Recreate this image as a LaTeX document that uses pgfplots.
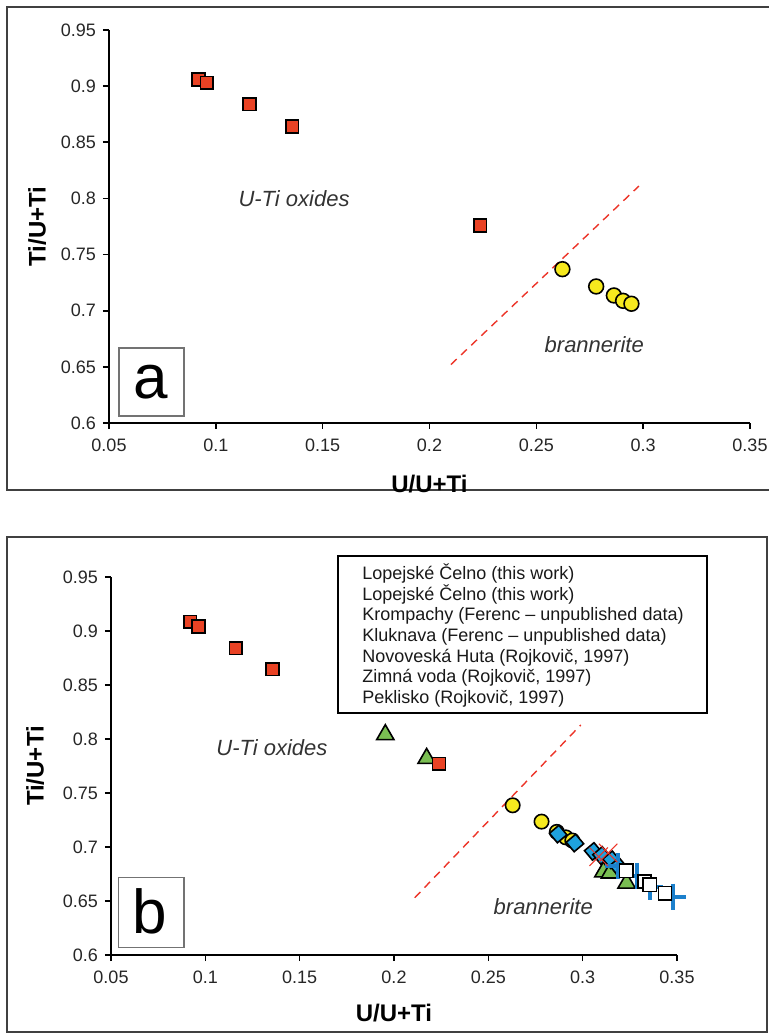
\documentclass[border=0pt]{standalone}
\usepackage{pgfplots}
\pgfplotsset{compat=1.18}
\usepackage{fontspec}
\setmainfont{Liberation Sans}
\definecolor{redsq}{RGB}{233,66,36}
\definecolor{yel}{RGB}{246,233,30}
\definecolor{grn}{RGB}{122,190,82}
\definecolor{cyn}{RGB}{30,162,222}
\definecolor{crossb}{RGB}{28,128,204}
\definecolor{dashr}{RGB}{236,52,40}
\pgfplotsset{
  mystyle/.style={
    scale only axis,
    axis x line=bottom, axis y line=left,
    axis line style={-, line width=0.9pt},
    xmin=0.05, xmax=0.35, ymin=0.6, ymax=0.95,
    xtick={0.05,0.1,0.15,0.2,0.25,0.3,0.35},
    ytick={0.6,0.65,0.7,0.75,0.8,0.85,0.9,0.95},
    tick align=outside, major tick length=3pt,
    tick style={black, line width=0.8pt},
    ticklabel style={font=\fontsize{9}{10}\selectfont, text=black!85},
    xticklabel style={yshift=-1.5pt},
    /pgf/number format/fixed,
    /pgf/number format/precision=2,
    /pgf/number format/assume math mode=true,
    clip=false,
    xlabel={U/U+Ti}, ylabel={Ti/U+Ti},
    label style={font=\bfseries\fontsize{12}{14}\selectfont},
  }
}
\begin{document}
\begin{tikzpicture}
\useasboundingbox (0pt,0pt) rectangle (384.5pt,517pt);
% panel frames
\draw[line width=0.75pt, black!75] (392pt,513.5pt) -- (3.5pt,513.5pt) -- (3.5pt,272pt) -- (392pt,272pt);
\draw[line width=0.75pt, black!75] (3.5pt,248.5pt) rectangle (383.5pt,1pt);

% ---------- panel a ----------
\begin{scope}[shift={(54.5pt,305.5pt)}]
\begin{axis}[mystyle, at={(0pt,0pt)}, anchor=south west,
  width=320.5pt, height=196.5pt,
  xlabel style={at={(axis description cs:0.5,-0.155)}, anchor=center},
  ylabel style={at={(axis description cs:-0.112,0.5)}, anchor=center},
]
\addplot[dashr, line width=0.7pt, dash pattern=on 4pt off 3pt] coordinates {(0.21,0.652) (0.298,0.811)};
\addplot[only marks, mark=square*, mark size=3.2pt, mark options={fill=redsq, draw=black, line width=0.8pt}]
  coordinates {(0.0919,0.906) (0.0958,0.903) (0.1158,0.884) (0.1357,0.864) (0.2237,0.776)};
\addplot[only marks, mark=*, mark size=3.7pt, mark options={fill=yel, draw=black, line width=0.8pt}]
  coordinates {(0.2622,0.737) (0.278,0.7216) (0.2863,0.7136) (0.2906,0.7088) (0.2945,0.7062)};
\node[font=\itshape\fontsize{11}{13}\selectfont, text=black!80] at (axis cs:0.1366,0.8) {U-Ti oxides};
\node[font=\itshape\fontsize{11}{13}\selectfont, text=black!80] at (axis cs:0.2771,0.6697) {brannerite};
\end{axis}
\end{scope}
\draw[black!55, line width=0.6pt] (59.5pt,309pt) rectangle (92pt,343pt);
\node[inner sep=0] at (75.2pt,326pt) {\fontsize{31}{31}\selectfont a};

% ---------- panel b ----------
\begin{scope}[shift={(55.5pt,39.5pt)}]
\begin{axis}[mystyle, at={(0pt,0pt)}, anchor=south west,
  width=283pt, height=189pt,
  xlabel style={at={(axis description cs:0.5,-0.153)}, anchor=center},
  ylabel style={at={(axis description cs:-0.134,0.5)}, anchor=center},
]
\addplot[dashr, line width=0.7pt, dash pattern=on 4pt off 3pt] coordinates {(0.211,0.653) (0.299,0.813)};
% Lopejske Celno: U-Ti oxides
\addplot[only marks, mark=square*, mark size=3.2pt, mark options={fill=redsq, draw=black, line width=0.8pt}]
  coordinates {(0.0920,0.9086) (0.0963,0.904) (0.1162,0.884) (0.1355,0.8647)};
% Krompachy
\addplot[only marks, mark=triangle*, mark size=5pt, mark options={fill=grn, draw=black, line width=0.8pt}]
  coordinates {(0.1954,0.804) (0.2173,0.782) (0.3110,0.677) (0.3145,0.6759) (0.3233,0.6666)};
\addplot[only marks, mark=square*, mark size=3.2pt, mark options={fill=redsq, draw=black, line width=0.8pt}]
  coordinates {(0.2238,0.777)};
% Lopejske Celno: brannerite
\addplot[only marks, mark=*, mark size=3.6pt, mark options={fill=yel, draw=black, line width=0.8pt}]
  coordinates {(0.2629,0.7386) (0.2782,0.7235) (0.2863,0.714) (0.2911,0.7089) (0.2945,0.706)};
% Kluknava
\addplot[only marks, mark=square*, mark size=3.1pt, mark options={fill=cyn, draw=black, line width=0.8pt, rotate=40}]
  coordinates {(0.287,0.712) (0.2959,0.7037) (0.3056,0.6959) (0.3100,0.6922) (0.3153,0.6882) (0.3189,0.682)};
% Zimna voda
\addplot[only marks, mark=+, mark size=6.5pt, mark options={draw=crossb, line width=2pt}]
  coordinates {(0.3189,0.682) (0.3286,0.6727) (0.3356,0.6634) (0.348,0.6541)};
% Novoveska Huta
\addplot[only marks, mark=square*, mark size=3.3pt, mark options={fill=white, draw=black, line width=0.8pt}]
  coordinates {(0.3231,0.678) (0.3327,0.668) (0.3356,0.665) (0.3436,0.6573)};
% Peklisko
\addplot[only marks, mark=x, mark size=6.5pt, mark options={draw=dashr, line width=0.5pt, double=cyn, double distance=0.8pt}]
  coordinates {(0.3085,0.691) (0.3135,0.6945)};
\node[font=\itshape\fontsize{11}{13}\selectfont, text=black!80] at (axis cs:0.1353,0.792) {U-Ti oxides};
\node[font=\itshape\fontsize{11}{13}\selectfont, text=black!80] at (axis cs:0.2791,0.6449) {brannerite};
\end{axis}
\end{scope}
\draw[black!55, line width=0.6pt] (59.15pt,43.35pt) rectangle (92pt,78.2pt);
\node[inner sep=0] at (75pt,61.15pt) {\fontsize{31}{31}\selectfont b};

% legend box (text only)
\draw[fill=white, line width=0.6pt] (169pt,239pt) rectangle (353.5pt,160.5pt);
\begin{scope}[every node/.style={anchor=base west, inner sep=0, font=\fontsize{9}{11}\selectfont, text=black!90}]
\node at (181pt,227.1pt) {Lopejské Čelno (this work)};
\node at (181pt,216.82pt) {Lopejské Čelno (this work)};
\node at (181pt,206.54pt) {Krompachy (Ferenc – unpublished data)};
\node at (181pt,196.26pt) {Kluknava (Ferenc – unpublished data)};
\node at (181pt,185.98pt) {Novoveská Huta (Rojkovič, 1997)};
\node at (181pt,175.70pt) {Zimná voda (Rojkovič, 1997)};
\node at (181pt,165.42pt) {Peklisko (Rojkovič, 1997)};
\end{scope}
\end{tikzpicture}
\end{document}
